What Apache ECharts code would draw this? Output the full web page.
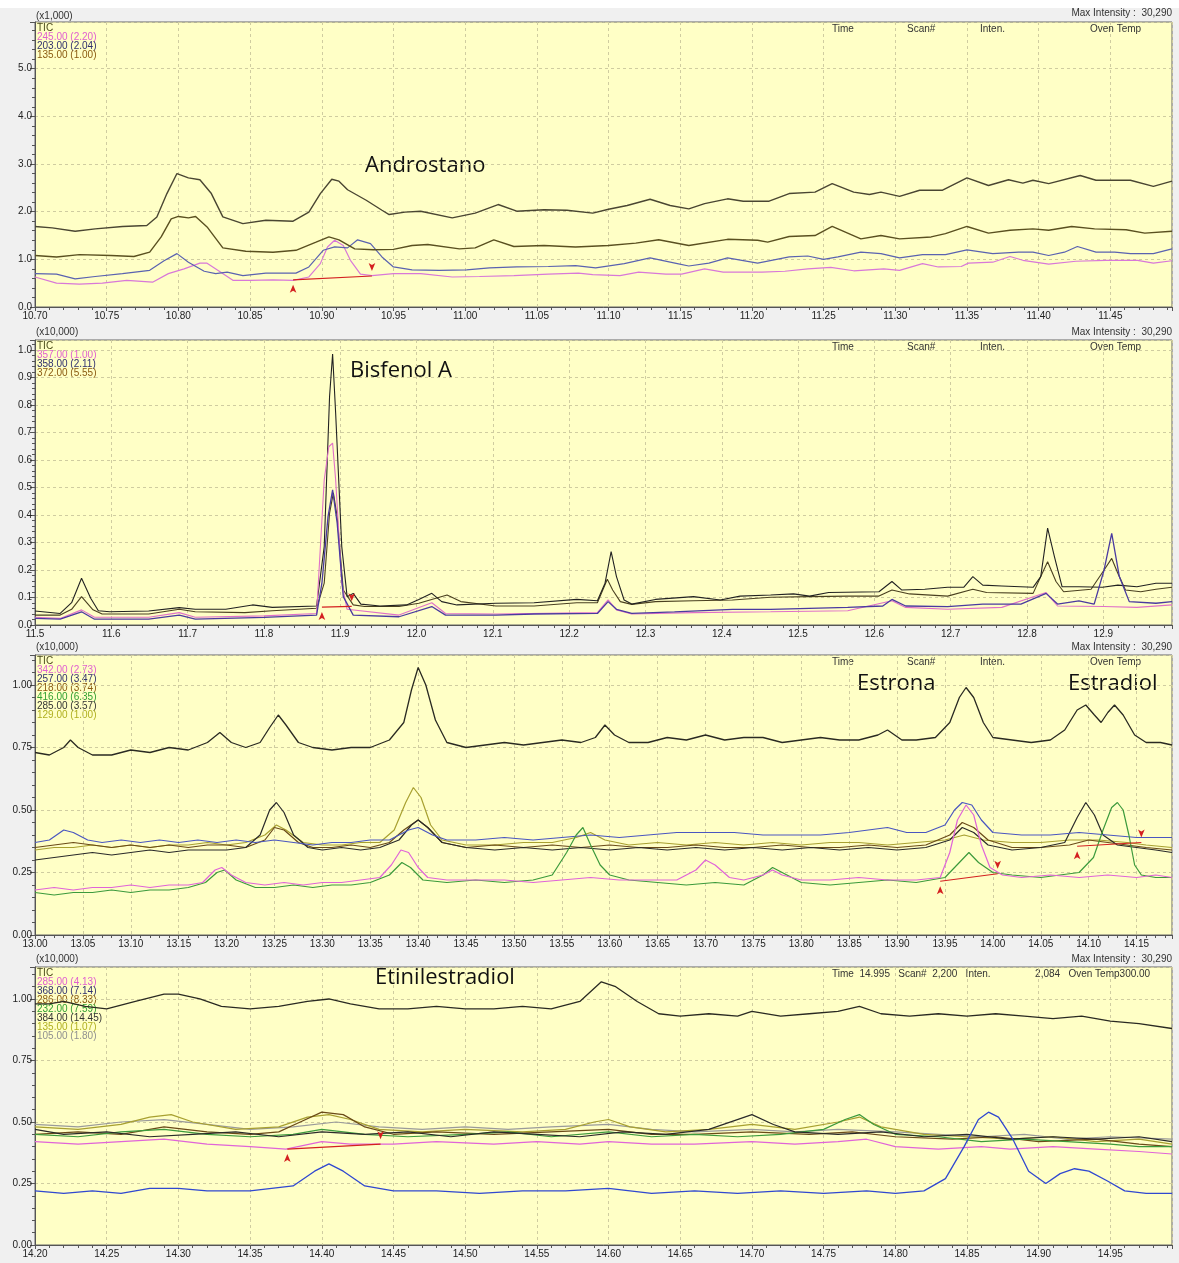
<!DOCTYPE html>
<html>
<head>
<meta charset="utf-8">
<script src="https://cdn.jsdelivr.net/npm/echarts@6/dist/echarts.min.js"></script>
<style>
  html, body { margin: 0; padding: 0; background: #f0f0f0; }
  #chart { width: 1179px; height: 1263px; }
</style>
</head>
<body>
<div id="chart"></div>
<script>
// ---- panel 1: Androstano (x1,000) ----
var p1Tic = [[10.700,1.69],[10.712,1.66],[10.728,1.59],[10.742,1.64],[10.761,1.69],[10.778,1.71],[10.785,1.89],[10.792,2.38],[10.799,2.80],[10.807,2.71],[10.815,2.67],[10.823,2.38],[10.831,1.89],[10.845,1.75],[10.861,1.82],[10.880,1.80],[10.891,1.99],[10.899,2.38],[10.907,2.68],[10.912,2.64],[10.918,2.46],[10.931,2.24],[10.942,2.03],[10.947,1.94],[10.958,1.99],[10.969,2.01],[10.991,1.87],[11.007,1.97],[11.023,2.15],[11.036,2.01],[11.055,2.04],[11.071,2.03],[11.089,1.97],[11.100,2.05],[11.113,2.13],[11.129,2.26],[11.143,2.13],[11.156,2.06],[11.167,2.17],[11.183,2.27],[11.194,2.22],[11.212,2.22],[11.226,2.38],[11.244,2.41],[11.256,2.59],[11.271,2.41],[11.282,2.36],[11.290,2.41],[11.303,2.32],[11.317,2.45],[11.333,2.45],[11.350,2.71],[11.365,2.55],[11.379,2.67],[11.389,2.60],[11.396,2.66],[11.407,2.59],[11.429,2.76],[11.440,2.66],[11.464,2.66],[11.480,2.53],[11.493,2.64]];
var p1m135 = [[10.700,1.08],[10.715,1.05],[10.731,1.10],[10.753,1.08],[10.769,1.06],[10.780,1.15],[10.788,1.47],[10.795,1.85],[10.800,1.90],[10.807,1.87],[10.812,1.90],[10.820,1.68],[10.831,1.24],[10.847,1.17],[10.866,1.15],[10.882,1.19],[10.896,1.36],[10.905,1.47],[10.912,1.41],[10.923,1.22],[10.936,1.20],[10.950,1.21],[10.963,1.29],[10.974,1.31],[10.996,1.22],[11.007,1.24],[11.020,1.41],[11.034,1.27],[11.055,1.29],[11.077,1.26],[11.100,1.29],[11.119,1.34],[11.135,1.41],[11.156,1.29],[11.183,1.42],[11.204,1.40],[11.211,1.36],[11.226,1.48],[11.244,1.50],[11.256,1.69],[11.276,1.43],[11.290,1.50],[11.303,1.43],[11.325,1.47],[11.335,1.54],[11.350,1.69],[11.365,1.55],[11.380,1.61],[11.396,1.64],[11.407,1.61],[11.423,1.69],[11.439,1.64],[11.461,1.62],[11.474,1.55],[11.493,1.59]];
var p1m203 = [[10.700,0.70],[10.715,0.69],[10.728,0.59],[10.742,0.64],[10.761,0.70],[10.780,0.77],[10.790,0.97],[10.799,1.12],[10.807,0.94],[10.818,0.75],[10.826,0.70],[10.834,0.73],[10.845,0.66],[10.861,0.71],[10.882,0.71],[10.891,0.84],[10.901,1.19],[10.909,1.26],[10.918,1.24],[10.925,1.41],[10.934,1.33],[10.942,1.05],[10.950,0.84],[10.963,0.78],[10.982,0.77],[11.001,0.78],[11.017,0.82],[11.036,0.84],[11.058,0.85],[11.077,0.87],[11.091,0.82],[11.111,0.91],[11.129,1.03],[11.148,0.91],[11.156,0.86],[11.170,0.92],[11.183,1.03],[11.204,0.92],[11.226,1.05],[11.239,1.07],[11.250,1.00],[11.260,1.05],[11.276,1.15],[11.290,1.12],[11.303,1.03],[11.319,1.10],[11.335,1.10],[11.350,1.20],[11.368,1.12],[11.386,1.15],[11.396,1.15],[11.407,1.08],[11.418,1.15],[11.427,1.27],[11.440,1.15],[11.453,1.15],[11.464,1.12],[11.480,1.12],[11.493,1.22]];
var p1m245 = [[10.700,0.63],[10.715,0.50],[10.731,0.48],[10.747,0.50],[10.764,0.56],[10.782,0.52],[10.793,0.70],[10.804,0.80],[10.815,0.92],[10.820,0.92],[10.828,0.76],[10.838,0.56],[10.850,0.56],[10.866,0.57],[10.880,0.56],[10.891,0.63],[10.899,0.91],[10.904,1.26],[10.909,1.40],[10.915,1.29],[10.920,0.98],[10.927,0.69],[10.935,0.66],[10.950,0.70],[10.969,0.70],[10.991,0.63],[11.010,0.64],[11.034,0.66],[11.058,0.69],[11.079,0.71],[11.089,0.68],[11.108,0.66],[11.121,0.73],[11.140,0.69],[11.151,0.69],[11.167,0.80],[11.180,0.73],[11.207,0.73],[11.223,0.75],[11.239,0.80],[11.255,0.83],[11.271,0.76],[11.292,0.80],[11.303,0.77],[11.319,0.91],[11.330,0.84],[11.346,0.85],[11.351,0.92],[11.368,0.94],[11.380,1.06],[11.389,0.98],[11.407,0.90],[11.426,0.96],[11.447,0.98],[11.469,0.98],[11.480,0.92],[11.493,0.97]];
var p1Base = [[10.880,0.57],[10.935,0.65]];

// ---- panel 2: Bisfenol A (x10,000) ----
var p2Tic = [[11.500,0.051],[11.533,0.042],[11.548,0.081],[11.561,0.170],[11.573,0.097],[11.583,0.052],[11.598,0.048],[11.649,0.051],[11.689,0.063],[11.710,0.057],[11.750,0.057],[11.785,0.073],[11.811,0.064],[11.869,0.069],[11.879,0.285],[11.886,0.830],[11.890,0.985],[11.894,0.770],[11.902,0.285],[11.909,0.103],[11.917,0.115],[11.927,0.076],[11.952,0.069],[11.987,0.073],[12.003,0.093],[12.020,0.115],[12.033,0.085],[12.053,0.073],[12.104,0.079],[12.154,0.081],[12.210,0.093],[12.237,0.088],[12.247,0.152],[12.255,0.267],[12.262,0.176],[12.272,0.091],[12.282,0.076],[12.313,0.093],[12.363,0.103],[12.398,0.091],[12.424,0.105],[12.464,0.109],[12.494,0.113],[12.515,0.105],[12.540,0.118],[12.606,0.121],[12.623,0.158],[12.636,0.127],[12.666,0.130],[12.696,0.137],[12.717,0.137],[12.729,0.176],[12.742,0.145],[12.767,0.142],[12.808,0.137],[12.818,0.176],[12.827,0.352],[12.836,0.248],[12.846,0.139],[12.868,0.139],[12.899,0.137],[12.919,0.145],[12.944,0.139],[12.969,0.152],[12.990,0.152]];
var p2m372 = [[11.500,0.036],[11.533,0.036],[11.548,0.057],[11.561,0.103],[11.576,0.055],[11.588,0.040],[11.649,0.040],[11.689,0.057],[11.710,0.048],[11.775,0.045],[11.811,0.052],[11.869,0.061],[11.879,0.152],[11.886,0.406],[11.891,0.480],[11.896,0.394],[11.904,0.127],[11.917,0.073],[11.932,0.067],[11.977,0.067],[12.003,0.079],[12.040,0.109],[12.058,0.085],[12.104,0.069],[12.154,0.069],[12.210,0.081],[12.237,0.081],[12.250,0.166],[12.257,0.127],[12.267,0.085],[12.282,0.075],[12.313,0.085],[12.363,0.088],[12.414,0.091],[12.464,0.101],[12.515,0.103],[12.565,0.105],[12.606,0.105],[12.623,0.127],[12.646,0.113],[12.696,0.105],[12.729,0.130],[12.747,0.118],[12.808,0.115],[12.818,0.176],[12.827,0.230],[12.838,0.158],[12.848,0.121],[12.884,0.130],[12.901,0.200],[12.911,0.242],[12.919,0.188],[12.929,0.127],[12.949,0.121],[12.969,0.130],[12.990,0.137]];
var p2m358 = [[11.500,0.024],[11.533,0.021],[11.561,0.048],[11.578,0.021],[11.649,0.021],[11.689,0.036],[11.710,0.021],[11.800,0.028],[11.869,0.036],[11.876,0.152],[11.884,0.394],[11.890,0.491],[11.896,0.370],[11.904,0.103],[11.917,0.036],[11.977,0.030],[12.020,0.067],[12.038,0.036],[12.104,0.036],[12.154,0.040],[12.237,0.042],[12.251,0.085],[12.262,0.057],[12.282,0.042],[12.338,0.048],[12.414,0.057],[12.464,0.057],[12.565,0.064],[12.611,0.069],[12.623,0.093],[12.641,0.069],[12.696,0.067],[12.742,0.076],[12.792,0.076],[12.825,0.115],[12.840,0.076],[12.868,0.088],[12.888,0.076],[12.901,0.200],[12.911,0.333],[12.921,0.176],[12.934,0.085],[12.969,0.079],[12.990,0.085]];
var p2m357 = [[11.500,0.028],[11.533,0.024],[11.561,0.055],[11.578,0.028],[11.649,0.028],[11.689,0.045],[11.710,0.028],[11.800,0.033],[11.869,0.042],[11.879,0.527],[11.885,0.648],[11.890,0.661],[11.894,0.527],[11.902,0.152],[11.909,0.057],[11.977,0.036],[12.020,0.081],[12.038,0.042],[12.104,0.040],[12.237,0.045],[12.251,0.091],[12.262,0.055],[12.282,0.040],[12.363,0.045],[12.464,0.048],[12.565,0.052],[12.623,0.088],[12.641,0.064],[12.696,0.057],[12.767,0.064],[12.825,0.118],[12.840,0.069],[12.901,0.067],[12.944,0.064],[12.990,0.073]];
var p2Base = [[11.876,0.065],[11.915,0.068]];

// ---- panel 3: Estrona / Estradiol (x10,000) ----
var p3Tic = [[13.000,0.73],[13.015,0.72],[13.030,0.75],[13.037,0.78],[13.045,0.75],[13.060,0.72],[13.080,0.72],[13.100,0.74],[13.120,0.73],[13.140,0.75],[13.160,0.74],[13.180,0.77],[13.193,0.81],[13.205,0.77],[13.220,0.75],[13.235,0.77],[13.245,0.83],[13.254,0.88],[13.262,0.84],[13.275,0.77],[13.290,0.75],[13.310,0.74],[13.330,0.75],[13.350,0.75],[13.370,0.78],[13.385,0.85],[13.393,0.98],[13.400,1.07],[13.408,1.00],[13.418,0.86],[13.430,0.77],[13.450,0.75],[13.470,0.76],[13.490,0.77],[13.510,0.76],[13.530,0.77],[13.550,0.78],[13.570,0.77],[13.585,0.79],[13.595,0.84],[13.605,0.80],[13.620,0.77],[13.640,0.77],[13.660,0.79],[13.680,0.78],[13.700,0.80],[13.720,0.78],[13.740,0.79],[13.760,0.79],[13.780,0.77],[13.800,0.78],[13.820,0.79],[13.840,0.78],[13.860,0.78],[13.880,0.80],[13.890,0.82],[13.905,0.78],[13.920,0.78],[13.940,0.79],[13.955,0.85],[13.965,0.95],[13.972,0.99],[13.980,0.95],[13.990,0.85],[14.000,0.79],[14.020,0.78],[14.040,0.77],[14.060,0.78],[14.075,0.82],[14.088,0.90],[14.097,0.92],[14.106,0.88],[14.113,0.85],[14.120,0.89],[14.127,0.92],[14.136,0.88],[14.148,0.80],[14.160,0.77],[14.175,0.77],[14.187,0.76]];
var p3m342 = [[13.000,0.18],[13.020,0.19],[13.040,0.18],[13.060,0.19],[13.080,0.19],[13.100,0.20],[13.120,0.19],[13.140,0.20],[13.160,0.20],[13.175,0.21],[13.188,0.26],[13.195,0.27],[13.205,0.24],[13.220,0.21],[13.240,0.20],[13.260,0.21],[13.280,0.20],[13.300,0.21],[13.320,0.21],[13.340,0.22],[13.360,0.23],[13.372,0.28],[13.382,0.34],[13.390,0.33],[13.400,0.27],[13.410,0.23],[13.430,0.22],[13.460,0.22],[13.490,0.22],[13.520,0.21],[13.550,0.22],[13.580,0.23],[13.610,0.22],[13.640,0.22],[13.670,0.22],[13.690,0.26],[13.700,0.30],[13.710,0.28],[13.725,0.23],[13.740,0.22],[13.760,0.24],[13.770,0.26],[13.780,0.24],[13.800,0.22],[13.830,0.22],[13.860,0.23],[13.890,0.22],[13.920,0.22],[13.945,0.23],[13.955,0.33],[13.963,0.46],[13.972,0.52],[13.980,0.48],[13.988,0.36],[13.997,0.27],[14.010,0.24],[14.030,0.23],[14.060,0.24],[14.090,0.23],[14.120,0.24],[14.150,0.23],[14.170,0.24],[14.187,0.23]];
var p3m257 = [[13.000,0.37],[13.015,0.38],[13.030,0.42],[13.040,0.41],[13.055,0.38],[13.070,0.37],[13.090,0.38],[13.110,0.37],[13.130,0.38],[13.150,0.37],[13.170,0.38],[13.190,0.37],[13.210,0.38],[13.230,0.37],[13.250,0.38],[13.270,0.37],[13.290,0.36],[13.310,0.37],[13.330,0.37],[13.350,0.38],[13.370,0.38],[13.390,0.42],[13.400,0.43],[13.415,0.40],[13.430,0.38],[13.460,0.38],[13.490,0.39],[13.520,0.38],[13.550,0.39],[13.580,0.40],[13.610,0.39],[13.640,0.40],[13.670,0.41],[13.700,0.41],[13.730,0.41],[13.760,0.40],[13.790,0.40],[13.820,0.40],[13.850,0.41],[13.870,0.42],[13.890,0.43],[13.910,0.41],[13.930,0.41],[13.950,0.44],[13.960,0.50],[13.968,0.53],[13.978,0.52],[13.988,0.46],[14.000,0.41],[14.030,0.40],[14.060,0.40],[14.090,0.41],[14.120,0.40],[14.150,0.39],[14.170,0.39],[14.187,0.39]];
var p3m218 = [[13.000,0.35],[13.020,0.36],[13.040,0.37],[13.060,0.36],[13.080,0.35],[13.100,0.36],[13.120,0.35],[13.140,0.36],[13.160,0.35],[13.180,0.36],[13.200,0.36],[13.220,0.35],[13.240,0.38],[13.250,0.43],[13.260,0.42],[13.275,0.37],[13.290,0.35],[13.310,0.35],[13.330,0.36],[13.350,0.35],[13.370,0.37],[13.385,0.42],[13.400,0.46],[13.410,0.43],[13.425,0.37],[13.450,0.35],[13.480,0.36],[13.510,0.35],[13.540,0.36],[13.570,0.35],[13.600,0.36],[13.630,0.35],[13.660,0.35],[13.690,0.36],[13.720,0.35],[13.750,0.35],[13.780,0.36],[13.810,0.35],[13.840,0.35],[13.870,0.36],[13.900,0.35],[13.930,0.36],[13.955,0.40],[13.968,0.45],[13.980,0.43],[13.995,0.38],[14.020,0.35],[14.050,0.35],[14.080,0.36],[14.100,0.38],[14.120,0.37],[14.140,0.36],[14.160,0.35],[14.187,0.34]];
var p3m416 = [[13.000,0.17],[13.020,0.16],[13.040,0.17],[13.060,0.17],[13.080,0.18],[13.100,0.17],[13.120,0.18],[13.140,0.18],[13.160,0.19],[13.178,0.21],[13.190,0.25],[13.198,0.26],[13.210,0.22],[13.230,0.19],[13.250,0.19],[13.270,0.20],[13.290,0.19],[13.310,0.20],[13.330,0.20],[13.350,0.21],[13.370,0.24],[13.383,0.29],[13.392,0.27],[13.405,0.22],[13.430,0.21],[13.460,0.22],[13.490,0.21],[13.520,0.22],[13.540,0.24],[13.555,0.33],[13.565,0.40],[13.572,0.43],[13.580,0.36],[13.590,0.28],[13.600,0.24],[13.620,0.22],[13.650,0.21],[13.680,0.20],[13.710,0.21],[13.740,0.20],[13.760,0.24],[13.770,0.27],[13.785,0.24],[13.800,0.21],[13.830,0.20],[13.860,0.21],[13.890,0.22],[13.920,0.21],[13.950,0.23],[13.965,0.29],[13.975,0.33],[13.985,0.29],[14.000,0.25],[14.020,0.24],[14.050,0.23],[14.070,0.24],[14.090,0.25],[14.105,0.31],[14.115,0.42],[14.124,0.51],[14.130,0.53],[14.136,0.50],[14.142,0.40],[14.148,0.28],[14.155,0.24],[14.170,0.23],[14.187,0.23]];
var p3m285 = [[13.000,0.30],[13.020,0.31],[13.040,0.32],[13.060,0.33],[13.080,0.32],[13.100,0.33],[13.120,0.34],[13.140,0.33],[13.160,0.34],[13.180,0.34],[13.200,0.34],[13.220,0.35],[13.235,0.40],[13.245,0.50],[13.252,0.53],[13.260,0.49],[13.270,0.40],[13.285,0.35],[13.300,0.34],[13.320,0.35],[13.340,0.34],[13.360,0.35],[13.380,0.38],[13.393,0.44],[13.400,0.46],[13.410,0.43],[13.425,0.37],[13.450,0.35],[13.480,0.34],[13.510,0.35],[13.540,0.34],[13.570,0.35],[13.600,0.34],[13.630,0.35],[13.660,0.34],[13.690,0.35],[13.720,0.34],[13.750,0.35],[13.780,0.34],[13.810,0.35],[13.840,0.34],[13.870,0.35],[13.900,0.34],[13.930,0.35],[13.955,0.38],[13.968,0.43],[13.980,0.41],[13.995,0.36],[14.020,0.34],[14.050,0.35],[14.075,0.37],[14.088,0.47],[14.097,0.53],[14.106,0.48],[14.115,0.40],[14.130,0.36],[14.150,0.35],[14.170,0.34],[14.187,0.33]];
var p3m129 = [[13.000,0.34],[13.020,0.35],[13.040,0.35],[13.060,0.36],[13.080,0.35],[13.100,0.36],[13.120,0.35],[13.140,0.36],[13.160,0.36],[13.180,0.37],[13.200,0.36],[13.220,0.37],[13.240,0.40],[13.252,0.44],[13.262,0.42],[13.280,0.37],[13.300,0.36],[13.320,0.36],[13.340,0.37],[13.360,0.37],[13.375,0.42],[13.387,0.53],[13.395,0.59],[13.403,0.55],[13.413,0.44],[13.425,0.38],[13.450,0.36],[13.480,0.36],[13.510,0.37],[13.540,0.37],[13.565,0.39],[13.580,0.41],[13.595,0.38],[13.620,0.36],[13.650,0.37],[13.680,0.36],[13.710,0.37],[13.740,0.36],[13.770,0.37],[13.800,0.36],[13.830,0.37],[13.860,0.37],[13.890,0.36],[13.920,0.37],[13.950,0.38],[13.970,0.40],[13.990,0.38],[14.020,0.37],[14.050,0.37],[14.080,0.38],[14.110,0.38],[14.140,0.37],[14.160,0.36],[14.187,0.35]];
var p3BaseA = [[13.945,0.215],[14.005,0.245]];
var p3BaseB = [[14.088,0.355],[14.155,0.370]];

// ---- panel 4: Etinilestradiol (x10,000) ----
var p4Tic = [[14.200,0.98],[14.210,0.98],[14.220,0.99],[14.235,0.97],[14.250,0.96],[14.270,0.99],[14.290,1.02],[14.300,1.02],[14.315,1.00],[14.330,0.97],[14.350,0.96],[14.370,0.97],[14.390,0.99],[14.405,1.00],[14.420,0.98],[14.440,0.96],[14.460,0.96],[14.480,0.97],[14.500,0.96],[14.520,0.96],[14.540,0.97],[14.560,0.96],[14.580,0.99],[14.595,1.07],[14.605,1.05],[14.620,0.99],[14.635,0.94],[14.650,0.93],[14.670,0.94],[14.690,0.93],[14.700,0.95],[14.720,0.93],[14.740,0.94],[14.760,0.95],[14.775,0.97],[14.790,0.94],[14.810,0.93],[14.830,0.94],[14.850,0.93],[14.870,0.94],[14.890,0.93],[14.910,0.92],[14.930,0.93],[14.950,0.91],[14.970,0.90],[14.993,0.88]];
var p4m285 = [[14.200,0.42],[14.230,0.41],[14.260,0.42],[14.290,0.43],[14.320,0.41],[14.350,0.40],[14.375,0.39],[14.400,0.42],[14.420,0.41],[14.450,0.41],[14.480,0.42],[14.520,0.41],[14.550,0.42],[14.580,0.41],[14.600,0.42],[14.630,0.41],[14.660,0.41],[14.700,0.42],[14.730,0.41],[14.760,0.42],[14.780,0.43],[14.800,0.40],[14.830,0.39],[14.860,0.40],[14.880,0.39],[14.910,0.40],[14.940,0.39],[14.970,0.38],[14.993,0.37]];
var p4m368 = [[14.200,0.22],[14.220,0.21],[14.240,0.22],[14.260,0.21],[14.280,0.23],[14.300,0.23],[14.320,0.22],[14.350,0.22],[14.380,0.24],[14.395,0.30],[14.405,0.33],[14.415,0.30],[14.430,0.24],[14.450,0.22],[14.480,0.22],[14.510,0.21],[14.540,0.22],[14.570,0.22],[14.600,0.23],[14.630,0.21],[14.660,0.22],[14.690,0.21],[14.720,0.22],[14.750,0.21],[14.780,0.22],[14.800,0.21],[14.820,0.22],[14.835,0.27],[14.848,0.40],[14.858,0.51],[14.865,0.54],[14.872,0.52],[14.882,0.43],[14.893,0.30],[14.905,0.25],[14.915,0.29],[14.925,0.31],[14.935,0.30],[14.948,0.26],[14.960,0.22],[14.975,0.21],[14.993,0.21]];
var p4m286 = [[14.200,0.45],[14.230,0.46],[14.260,0.45],[14.290,0.48],[14.320,0.46],[14.350,0.45],[14.370,0.46],[14.385,0.50],[14.400,0.54],[14.415,0.53],[14.430,0.48],[14.450,0.45],[14.480,0.46],[14.520,0.45],[14.560,0.46],[14.600,0.47],[14.630,0.45],[14.660,0.45],[14.700,0.46],[14.740,0.45],[14.770,0.46],[14.800,0.44],[14.840,0.43],[14.870,0.44],[14.900,0.42],[14.940,0.43],[14.970,0.41],[14.993,0.40]];
var p4m232 = [[14.200,0.45],[14.230,0.44],[14.260,0.46],[14.290,0.47],[14.320,0.45],[14.350,0.44],[14.380,0.45],[14.400,0.47],[14.430,0.45],[14.460,0.44],[14.500,0.45],[14.530,0.46],[14.560,0.44],[14.600,0.46],[14.630,0.44],[14.660,0.45],[14.690,0.44],[14.720,0.45],[14.750,0.47],[14.765,0.51],[14.775,0.53],[14.785,0.49],[14.800,0.45],[14.830,0.44],[14.860,0.42],[14.890,0.43],[14.920,0.42],[14.950,0.41],[14.970,0.40],[14.993,0.40]];
var p4m384 = [[14.200,0.47],[14.220,0.45],[14.250,0.46],[14.280,0.44],[14.310,0.45],[14.340,0.46],[14.370,0.44],[14.400,0.46],[14.430,0.45],[14.460,0.46],[14.490,0.44],[14.520,0.46],[14.550,0.45],[14.580,0.44],[14.610,0.46],[14.640,0.45],[14.670,0.47],[14.700,0.53],[14.715,0.49],[14.730,0.46],[14.760,0.45],[14.790,0.46],[14.820,0.44],[14.850,0.45],[14.880,0.43],[14.910,0.44],[14.940,0.43],[14.970,0.44],[14.993,0.42]];
var p4m135 = [[14.200,0.48],[14.230,0.47],[14.260,0.49],[14.280,0.52],[14.295,0.53],[14.310,0.50],[14.340,0.47],[14.370,0.48],[14.390,0.52],[14.405,0.53],[14.420,0.51],[14.440,0.47],[14.470,0.46],[14.500,0.47],[14.540,0.46],[14.570,0.47],[14.590,0.50],[14.600,0.51],[14.615,0.48],[14.640,0.46],[14.670,0.47],[14.700,0.49],[14.730,0.47],[14.760,0.50],[14.775,0.52],[14.790,0.48],[14.820,0.45],[14.850,0.44],[14.880,0.43],[14.910,0.44],[14.940,0.42],[14.970,0.43],[14.993,0.41]];
var p4m105 = [[14.200,0.49],[14.230,0.48],[14.260,0.50],[14.290,0.51],[14.320,0.49],[14.350,0.47],[14.380,0.48],[14.410,0.50],[14.440,0.48],[14.470,0.47],[14.500,0.48],[14.530,0.47],[14.560,0.48],[14.600,0.49],[14.630,0.47],[14.660,0.46],[14.700,0.47],[14.730,0.46],[14.760,0.47],[14.800,0.46],[14.830,0.45],[14.860,0.44],[14.890,0.45],[14.920,0.43],[14.950,0.44],[14.993,0.43]];
var p4Base = [[14.376,0.39],[14.441,0.41]];

// legend texts and colours of each panel
var p1Legend = [['TIC', '#4a4a1a'], ['245.00 (2.20)', '#e060d0'], ['203.00 (2.04)', '#30306e'], ['135.00 (1.00)', '#8a5a10']];
var p2Legend = [['TIC', '#4a4a1a'], ['357.00 (1.00)', '#e060d0'], ['358.00 (2.11)', '#30306e'], ['372.00 (5.55)', '#8a5a10']];
var p3Legend = [['TIC', '#4a4a1a'], ['342.00 (2.73)', '#e060d0'], ['257.00 (3.47)', '#30306e'], ['218.00 (3.74)', '#8a5a10'], ['416.00 (6.35)', '#30a030'], ['285.00 (3.57)', '#333333'], ['129.00 (1.00)', '#b0b020']];
var p4Legend = [['TIC', '#4a4a1a'], ['285.00 (4.13)', '#e060d0'], ['368.00 (7.14)', '#30306e'], ['286.00 (8.33)', '#8a5a10'], ['232.00 (7.59)', '#30a030'], ['384.00 (14.45)', '#333333'], ['135.00 (1.07)', '#b0b020'], ['105.00 (1.80)', '#909090']];
var compoundNames = ['Androstano', 'Bisfenol A', 'Estrona', 'Estradiol', 'Etinilestradiol'];

var myChart = echarts.init(document.getElementById('chart'));

var panels = [
    { top: 22, height: 285, xmin: 10.70, xmax: 11.493, xint: 0.05, xdec: 2, ymax: 5.98, yint: 1, ydec: 1, scale: '(x1,000)' },
    { top: 340, height: 285, xmin: 11.5, xmax: 12.99, xint: 0.1, xdec: 1, ymax: 1.036, yint: 0.1, ydec: 1, scale: '(x10,000)' },
    { top: 655, height: 280, xmin: 13.0, xmax: 14.187, xint: 0.05, xdec: 2, ymax: 1.12, yint: 0.25, ydec: 2, scale: '(x10,000)' },
    { top: 967, height: 278, xmin: 14.2, xmax: 14.993, xint: 0.05, xdec: 2, ymax: 1.13, yint: 0.25, ydec: 2, scale: '(x10,000)' }
];

var labelFont = { fontFamily: 'Liberation Sans', fontSize: 10, color: '#222' };
var gridLine = { show: true, lineStyle: { color: '#cfcca0', type: [3, 3], width: 1 } };

var grids = [], xAxes = [], yAxes = [], series = [], graphics = [];

// white strip on top of the screenshot
graphics.push({ type: 'rect', shape: { x: 0, y: 0, width: 1179, height: 8 }, style: { fill: '#ffffff' } });

panels.forEach(function (p, i) {
    grids.push({ left: 35, top: p.top, width: 1137, height: p.height, show: true,
        backgroundColor: '#ffffc6', borderColor: '#666', borderWidth: 1 });
    xAxes.push({ type: 'value', gridIndex: i, min: p.xmin, max: p.xmax, interval: p.xint,
        axisLine: { lineStyle: { color: '#555' } },
        axisTick: { lineStyle: { color: '#555' }, length: 4 },
        minorTick: { show: true, splitNumber: 5, length: 3, lineStyle: { color: '#555' } },
        axisLabel: Object.assign({ margin: 4, showMaxLabel: false,
            formatter: function (v) { return v.toFixed(p.xdec); } }, labelFont),
        splitLine: gridLine });
    yAxes.push({ type: 'value', gridIndex: i, min: 0, max: p.ymax, interval: p.yint,
        axisLine: { show: true, lineStyle: { color: '#555' } },
        axisTick: { show: true, lineStyle: { color: '#555' }, length: 5 },
        minorTick: { show: true, splitNumber: 5, length: 3, lineStyle: { color: '#555' } },
        axisLabel: Object.assign({ margin: 3, showMaxLabel: false,
            formatter: function (v) { return v.toFixed(p.ydec); } }, labelFont),
        splitLine: gridLine });
    // header row above each plot
    graphics.push({ type: 'text', left: 36, top: p.top - (i === 0 ? 11 : 13),
        style: { text: p.scale, font: '10px "Liberation Sans"', fill: '#333' } });
    graphics.push({ type: 'text', right: 7, top: p.top - (i === 0 ? 14 : 13),
        style: { text: 'Max Intensity :  30,290', font: '10px "Liberation Sans"', fill: '#333' } });
});

function addLine(data, idx, color, width) {
    series.push({ type: 'line', xAxisIndex: idx, yAxisIndex: idx, data: data, symbol: 'none',
        silent: true, animation: false, lineStyle: { color: color, width: width || 1.2 } });
}
function addBase(pts, idx) {
    series.push({ type: 'line', xAxisIndex: idx, yAxisIndex: idx, silent: true, animation: false,
        lineStyle: { color: '#d42020', width: 1.2 }, itemStyle: { color: '#d42020' },
        data: [
            { value: pts[0], symbol: 'arrow', symbolSize: [5, 8], symbolRotate: 0, symbolOffset: [0, 5] },
            { value: pts[1], symbol: 'arrow', symbolSize: [5, 8], symbolRotate: 180, symbolOffset: [0, -5] }
        ] });
}

// panel 1
addLine(p1m245, 0, '#d878d8');
addLine(p1m203, 0, '#5a62b0');
addLine(p1m135, 0, '#5a5020', 1.4);
addLine(p1Tic, 0, '#4a4632', 1.4);
addBase(p1Base, 0);
// panel 2
addLine(p2m372, 1, '#4a4020', 1.1);
addLine(p2Tic, 1, '#222222', 1.1);
addLine(p2m357, 1, '#e070c8', 1.1);
addLine(p2m358, 1, '#4a3aa0', 1.3);
addBase(p2Base, 1);
// panel 3
addLine(p3m129, 2, '#a8a030');
addLine(p3m218, 2, '#6a4a18');
addLine(p3m285, 2, '#2a2a2a');
addLine(p3m257, 2, '#4a56c0');
addLine(p3m416, 2, '#3c9a3c');
addLine(p3m342, 2, '#e064d8');
addLine(p3Tic, 2, '#2a2a22', 1.3);
addBase(p3BaseA, 2);
addBase(p3BaseB, 2);
// panel 4
addLine(p4m105, 3, '#9a9a9a');
addLine(p4m135, 3, '#a8a030');
addLine(p4m286, 3, '#6a4a18');
addLine(p4m232, 3, '#3c9a3c');
addLine(p4m384, 3, '#2a2a2a');
addLine(p4m285, 3, '#e064d8');
addLine(p4m368, 3, '#3048d0', 1.3);
addLine(p4Tic, 3, '#2a2a22', 1.3);
addBase(p4Base, 3);

// in-plot legends
[p1Legend, p2Legend, p3Legend, p4Legend].forEach(function (leg, i) {
    leg.forEach(function (row, k) {
        graphics.push({ type: 'text', left: 37, top: panels[i].top + 1 + k * 9,
            style: { text: row[0], font: '10px "Liberation Sans"', fill: row[1] } });
    });
});

// read-out row inside each plot
var readout = [
    ['Time', 832], ['Scan#', 907], ['Inten.', 980], ['Oven Temp', 1090]
];
[0, 1, 2].forEach(function (i) {
    readout.forEach(function (r) {
        graphics.push({ type: 'text', left: r[1], top: panels[i].top + 2,
            style: { text: r[0], font: '10px "Liberation Sans"', fill: '#333' } });
    });
});
graphics.push({ type: 'text', left: 832, top: panels[3].top + 2,
    style: { text: 'Time  14.995   Scan#  2,200   Inten.                2,084   Oven Temp300.00',
        font: '10px "Liberation Sans"', fill: '#333' } });

// compound names
var namePos = [[365, 155], [350, 360], [857, 673], [1068, 673], [375, 967]];
compoundNames.forEach(function (n, k) {
    graphics.push({ type: 'text', left: namePos[k][0], top: namePos[k][1],
        style: { text: n, font: '22px "Open Sans"', fill: '#111' } });
});

myChart.setOption({
    backgroundColor: '#f0f0f0',
    animation: false,
    grid: grids,
    xAxis: xAxes,
    yAxis: yAxes,
    series: series,
    graphic: graphics
});
</script>
</body>
</html>
